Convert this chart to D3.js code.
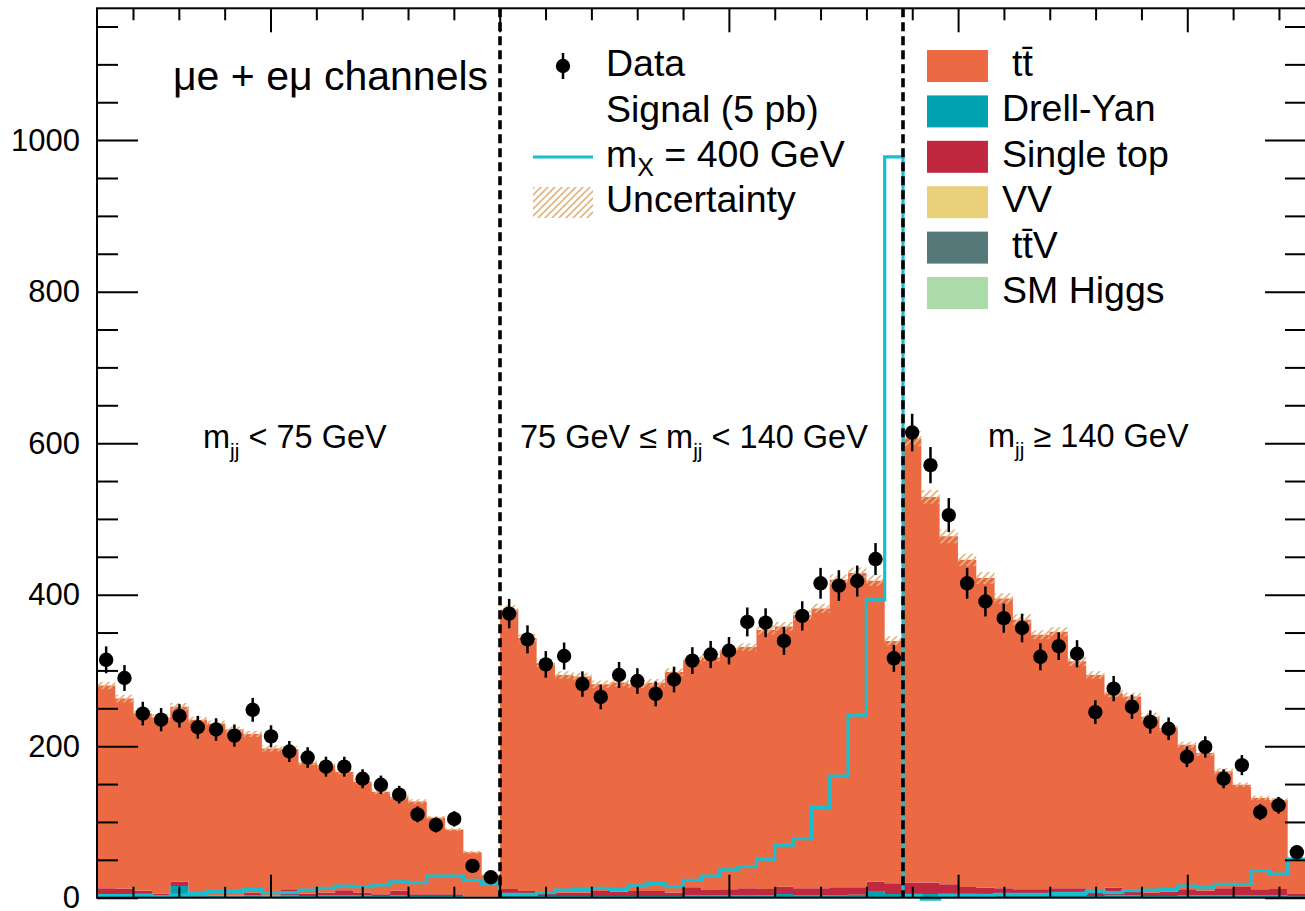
<!DOCTYPE html>
<meta charset="utf-8">
<style>
body { margin: 0; background: #fff; }
svg { display: block; }
text { font-family: "Liberation Sans", Arial, sans-serif; fill: #000; }
.axis path, .axis line { stroke: #000; stroke-width: 2; }
</style>
<body>
<svg width="1305" height="911"></svg>
<script src="https://cdn.jsdelivr.net/npm/d3@7"></script>
<script>

// 66 bins: 22 per m_jj region (< 75, 75-140, >= 140 GeV)
var ttbar = [
  267.6, 251, 233.7, 232.3, 231, 232.8, 227, 219.5, 209.3, 194.5, 185, 172.3, 168, 156.3, 146.3, 135.6, 123.7, 122.6, 101.6, 85.6, 59, 29,
  368.5, 334, 301.5, 287, 285, 273, 276, 273, 275, 291, 300, 307, 316, 318.5, 342, 343.5, 360.5, 369.5, 406, 415, 397.5, 320,
  586, 509, 459.3, 432, 408.5, 382.6, 356, 336, 338.6, 299.6, 286, 256.5, 254.6, 232.3, 216, 191, 181.7, 154.6, 135, 120.5, 117.5, 45
];
var drellYan = [
  2, 2, 2, 2, 14.5, 1.2, 1.5, 1.2, 2, 1.2, 2, 1.5, 2, 2, 2, 1.5, 2, 1.5, 1.5, 1.5, 0.3, 0.3,
  2, 1.5, 1.5, 1.5, 1.5, 1.5, 1.5, 1.5, 1.5, 1.5, 2, 2, 2, 2.5, 2, 4, 2.5, 2.5, 2.5, 3, 8, 4,
  3, 4, 2.5, 2, 2, 2, 2, 2, 2, 2, 1.5, 2, 2, 1.5, 1.5, 2, 2, 2, 2, 2, 2, 1
];
var singleTop = [
  9.6, 9.2, 6.5, 2.9, 5.7, 0.2, 0.7, 0.5, 3.9, 0.5, 8.2, 3.4, 4.2, 6.9, 3.9, 2.1, 6.5, 2.1, 2.1, 2.1, 0, 0,
  8.7, 6.5, 5.7, 4.7, 4.7, 6.5, 5.7, 6.5, 6.5, 4.7, 10.9, 7.2, 8.2, 9.1, 8.7, 9.7, 9.1, 9.1, 10.4, 9.9, 12.2, 14.2,
  16.2, 15.2, 14.4, 11.2, 10.7, 9.6, 8.2, 8.2, 9.6, 9.6, 5.7, 10.7, 8.2, 4.4, 5.7, 8.2, 6.5, 9.6, 11.2, 8.2, 8.7, 3.2
];
var diboson = [
  0.4, 0.4, 0.4, 0.4, 0.4, 0.4, 0.4, 0.4, 0.4, 0.4, 0.4, 0.4, 0.4, 0.4, 0.4, 0.4, 0.4, 0.4, 0.4, 0.4, 0.4, 0.4,
  0.4, 0.4, 0.4, 0.4, 0.4, 0.4, 0.4, 0.4, 0.4, 0.4, 0.4, 0.4, 0.4, 0.4, 0.4, 0.4, 0.4, 0.4, 0.4, 0.4, 0.4, 0.4,
  0.4, 0.4, 0.4, 0.4, 0.4, 0.4, 0.4, 0.4, 0.4, 0.4, 0.4, 0.4, 0.4, 0.4, 0.4, 0.4, 0.4, 0.4, 0.4, 0.4, 0.4, 0.4
];
var ttV = [
  0.3, 0.3, 0.3, 0.3, 0.3, 0.3, 0.3, 0.3, 0.3, 0.3, 0.3, 0.3, 0.3, 0.3, 0.3, 0.3, 0.3, 0.3, 0.3, 0.3, 0.3, 0.3,
  0.3, 0.3, 0.3, 0.3, 0.3, 0.3, 0.3, 0.3, 0.3, 0.3, 0.3, 0.3, 0.3, 0.3, 0.3, 0.3, 0.3, 0.3, 0.3, 0.3, 0.3, 0.3,
  0.3, 0.3, 0.3, 0.3, 0.3, 0.3, 0.3, 0.3, 0.3, 0.3, 0.3, 0.3, 0.3, 0.3, 0.3, 0.3, 0.3, 0.3, 0.3, 0.3, 0.3, 0.3
];
var smHiggs = [
  0.1, 0.1, 0.1, 0.1, 0.1, 0.1, 0.1, 0.1, 0.1, 0.1, 0.1, 0.1, 0.1, 0.1, 0.1, 0.1, 0.1, 0.1, 0.1, 0.1, 0.1, 0.1,
  0.1, 0.1, 0.1, 0.1, 0.1, 0.1, 0.1, 0.1, 0.1, 0.1, 0.1, 0.1, 0.1, 0.1, 0.1, 0.1, 0.1, 0.1, 0.1, 0.1, 0.1, 0.1,
  0.1, 0.1, 0.1, 0.1, 0.1, 0.1, 0.1, 0.1, 0.1, 0.1, 0.1, 0.1, 0.1, 0.1, 0.1, 0.1, 0.1, 0.1, 0.1, 0.1, 0.1, 0.1
];
var signal = [
  2.7, 2.7, 3.5, 1.3, 3.5, 5.7, 8, 8, 11, 6.7, 6.7, 10, 12.4, 15.4, 14.5, 16.8, 21, 20, 28.6, 28.6, 23, 18.5,
  4.4, 4.4, 6.7, 10, 11, 12.4, 11, 15.8, 19, 14.5, 23, 28.6, 36.6, 41, 51, 69.5, 78, 119, 160.6, 241, 393, 978,
  3, -2, 3.5, 3.5, 3, 4.4, 4.4, 4.4, 5.7, 5.7, 8, 6.7, 9.3, 10, 11, 15.4, 14, 17.7, 17.7, 35.6, 31, 51
];
var dataCounts = [
  314, 290, 243, 235, 240, 225, 222, 214, 248, 213, 193, 185, 173, 173, 157, 149, 136, 110, 96, 104, 42, 27,
  375, 341, 308, 319, 282, 265, 294, 286, 269, 288, 313, 321, 326, 364, 363, 339, 372, 415, 412, 418, 447, 316,
  614, 571, 505, 415, 391, 369, 356, 318, 332, 322, 245, 276, 252, 232, 223, 186, 199, 157, 175, 113, 122, 60
];
var bkgUnc = [
  5, 5, 4, 4, 5, 4, 4, 4, 4, 4, 4, 3, 3, 3, 3, 3, 3, 3, 2, 2, 2, 1,
  6, 5, 5, 5, 5, 5, 5, 5, 5, 5, 5, 5, 5, 5, 6, 6, 6, 6, 7, 7, 7, 6,
  10, 9, 9, 8, 8, 7, 7, 6, 6, 6, 5, 5, 5, 5, 4, 4, 4, 4, 3, 3, 3, 2
];
var regionEdges = [22, 44];
var yMajorTicks = [0, 200, 400, 600, 800, 1000];

var svg = d3.select("svg"),
    frame = {left: 97, right: 1306, top: 8.3, bottom: 897.7};

var x = d3.scaleLinear().domain([0, 66]).range([frame.left, frame.right]),
    y = d3.scaleLinear().domain([0, 1174]).range([frame.bottom, frame.top]),
    xt = d3.scaleLinear().domain([-0.757, 4.518]).range([frame.left, frame.right]);

// hatch pattern for the uncertainty band
var defs = svg.append("defs");
var pat = defs.append("pattern")
    .attr("id", "hatch")
    .attr("patternUnits", "userSpaceOnUse")
    .attr("width", 7).attr("height", 7);
pat.append("path")
    .attr("d", "M-1,8 L8,-1 M-1,1 L1,-1 M6,8 L8,6")
    .attr("stroke", "#e3b47f").attr("stroke-width", 1.6);

var keys = ["smHiggs", "ttV", "diboson", "drellYan", "singleTop", "ttbar"],
    colors = {ttbar: "#ec6a43", drellYan: "#00a1b0", singleTop: "#c0283f",
              diboson: "#ead07a", ttV: "#557878", smHiggs: "#aadba8"};
var series = {ttbar: ttbar, drellYan: drellYan, singleTop: singleTop,
              diboson: diboson, ttV: ttV, smHiggs: smHiggs};

var table = ttbar.map(function(d, i) {
  var row = {};
  keys.forEach(function(k) { row[k] = series[k][i]; });
  return row;
});
var stacked = d3.stack().keys(keys)(table);

// turn per-bin values into step points
function steps(lo, hi) {
  var pts = [];
  for (var i = 0; i < lo.length; i++) {
    pts.push({b: i, lo: lo[i], hi: hi[i]});
    pts.push({b: i + 1, lo: lo[i], hi: hi[i]});
  }
  return pts;
}

var area = d3.area()
    .x(function(d) { return x(d.b); })
    .y0(function(d) { return y(d.lo); })
    .y1(function(d) { return y(d.hi); });

var g = svg.append("g");

stacked.forEach(function(layer) {
  g.append("path")
      .datum(steps(layer.map(function(d) { return d[0]; }), layer.map(function(d) { return d[1]; })))
      .attr("fill", colors[layer.key])
      .attr("d", area);
});

// uncertainty band
var total = stacked[stacked.length - 1].map(function(d) { return d[1]; });
g.append("path")
    .datum(steps(total.map(function(t, i) { return t - bkgUnc[i]; }),
                 total.map(function(t, i) { return t + bkgUnc[i]; })))
    .attr("fill", "url(#hatch)")
    .attr("d", area);

// signal
var line = d3.line()
    .x(function(d) { return x(d.b); })
    .y(function(d) { return y(d.hi); });
g.append("path")
    .datum(steps(signal, signal))
    .attr("fill", "none")
    .attr("stroke", "#17bfd0")
    .attr("stroke-width", 3.2)
    .attr("d", line);

// region separators
g.selectAll(".sep")
  .data(regionEdges)
  .enter().append("line")
    .attr("x1", function(d) { return x(d); })
    .attr("x2", function(d) { return x(d); })
    .attr("y1", frame.top).attr("y2", frame.bottom)
    .attr("stroke", "#000")
    .attr("stroke-width", 3.6)
    .attr("stroke-dasharray", "9,5");

// data points
var pts = g.selectAll(".pt")
  .data(dataCounts)
  .enter().append("g");
pts.append("line")
    .attr("x1", function(d, i) { return x(i + 0.5); })
    .attr("x2", function(d, i) { return x(i + 0.5); })
    .attr("y1", function(d) { return y(d - Math.sqrt(d)); })
    .attr("y2", function(d) { return y(d + Math.sqrt(d)); })
    .attr("stroke", "#000").attr("stroke-width", 2.5);
pts.append("circle")
    .attr("cx", function(d, i) { return x(i + 0.5); })
    .attr("cy", function(d) { return y(d); })
    .attr("r", 7.2);

// axes
var minorY = d3.range(50, 1174, 50).filter(function(v) { return v % 200 !== 0; });
var majorX = [0, 1, 2, 3, 4],
    minorX = d3.range(-0.6, 4.52, 0.2).filter(function(v) { return Math.abs(v - Math.round(v)) > 0.01; });

function addAxis(axis, tr) {
  var a = svg.append("g").attr("class", "axis")
      .attr("transform", tr).call(axis);
  a.select(".domain").remove();
  a.selectAll("text")
      .style("font-family", "'Liberation Sans', Arial, sans-serif")
      .style("font-size", "31px");
  return a;
}

addAxis(d3.axisLeft(y).tickValues(yMajorTicks).tickSize(-41).tickPadding(17).tickFormat(d3.format("d")),
        "translate(" + frame.left + ",0)");
addAxis(d3.axisLeft(y).tickValues(minorY).tickSize(-21).tickFormat(""), "translate(" + frame.left + ",0)");
addAxis(d3.axisRight(y).tickValues(yMajorTicks).tickSize(-41).tickFormat(""), "translate(" + frame.right + ",0)");
addAxis(d3.axisRight(y).tickValues(minorY).tickSize(-21).tickFormat(""), "translate(" + frame.right + ",0)");
addAxis(d3.axisTop(xt).tickValues(majorX).tickSize(-24).tickFormat(""), "translate(0," + frame.top + ")");
addAxis(d3.axisTop(xt).tickValues(minorX).tickSize(-12).tickFormat(""), "translate(0," + frame.top + ")");
addAxis(d3.axisBottom(xt).tickValues(majorX).tickSize(-23).tickFormat(""), "translate(0," + frame.bottom + ")");
addAxis(d3.axisBottom(xt).tickValues(minorX).tickSize(-11).tickFormat(""), "translate(0," + frame.bottom + ")");

svg.append("rect")
    .attr("x", frame.left).attr("y", frame.top)
    .attr("width", frame.right - frame.left).attr("height", frame.bottom - frame.top)
    .attr("fill", "none").attr("stroke", "#000").attr("stroke-width", 2);

// channel label
svg.append("text")
    .attr("x", 173).attr("y", 90)
    .style("font-size", "41px")
    .text("\u03bce + e\u03bc channels");

// region labels
function mjj(sel) {
  sel.append("tspan").text("m");
  sel.append("tspan").attr("dy", 10).style("font-size", "21px").text("jj");
}
var r1 = svg.append("text").attr("x", 203).attr("y", 448).style("font-size", "32.5px");
mjj(r1);
r1.append("tspan").attr("dy", -10).text(" < 75 GeV");

var r2 = svg.append("text").attr("x", 520).attr("y", 448).style("font-size", "32.5px");
r2.append("tspan").text("75 GeV \u2264 ");
mjj(r2);
r2.append("tspan").attr("dy", -10).text(" < 140 GeV");

var r3 = svg.append("text").attr("x", 988).attr("y", 447).style("font-size", "32.5px");
mjj(r3);
r3.append("tspan").attr("dy", -10).text(" \u2265 140 GeV");

// legend (data / signal / uncertainty)
var lg = svg.append("g").style("font-size", "37.5px");
lg.append("line").attr("x1", 563).attr("x2", 563).attr("y1", 53).attr("y2", 79)
    .attr("stroke", "#000").attr("stroke-width", 2.5);
lg.append("circle").attr("cx", 563).attr("cy", 66).attr("r", 7.2);
lg.append("text").attr("x", 606).attr("y", 76).text("Data");
lg.append("text").attr("x", 606).attr("y", 122).text("Signal (5 pb)");
lg.append("line").attr("x1", 533).attr("x2", 593).attr("y1", 157).attr("y2", 157)
    .attr("stroke", "#17bfd0").attr("stroke-width", 3.2);
var mx = lg.append("text").attr("x", 606).attr("y", 167);
mx.append("tspan").text("m");
mx.append("tspan").attr("dy", 9).style("font-size", "25px").text("X");
mx.append("tspan").attr("dy", -9).text(" = 400 GeV");
lg.append("rect").attr("x", 533).attr("y", 187).attr("width", 60).attr("height", 31)
    .attr("fill", "url(#hatch)");
lg.append("text").attr("x", 606).attr("y", 212).text("Uncertainty");

// legend (backgrounds)
var bkgLegend = [
  {key: "ttbar", label: "tt\u0304"},
  {key: "drellYan", label: "Drell-Yan"},
  {key: "singleTop", label: "Single top"},
  {key: "diboson", label: "VV"},
  {key: "ttV", label: "tt\u0304V"},
  {key: "smHiggs", label: "SM Higgs"}
];
var rows = svg.append("g").style("font-size", "37.5px")
  .selectAll("g").data(bkgLegend).enter().append("g")
    .attr("transform", function(d, i) { return "translate(0," + (i * 45.4) + ")"; });
rows.append("rect")
    .attr("x", 927).attr("y", 50).attr("width", 61).attr("height", 32)
    .attr("fill", function(d) { return colors[d.key]; });
rows.append("text")
    .attr("x", function(d) { return d.label.indexOf("tt") === 0 ? 1012 : 1002; })
    .attr("y", 76)
    .text(function(d) { return d.label; });

</script>
</body>
